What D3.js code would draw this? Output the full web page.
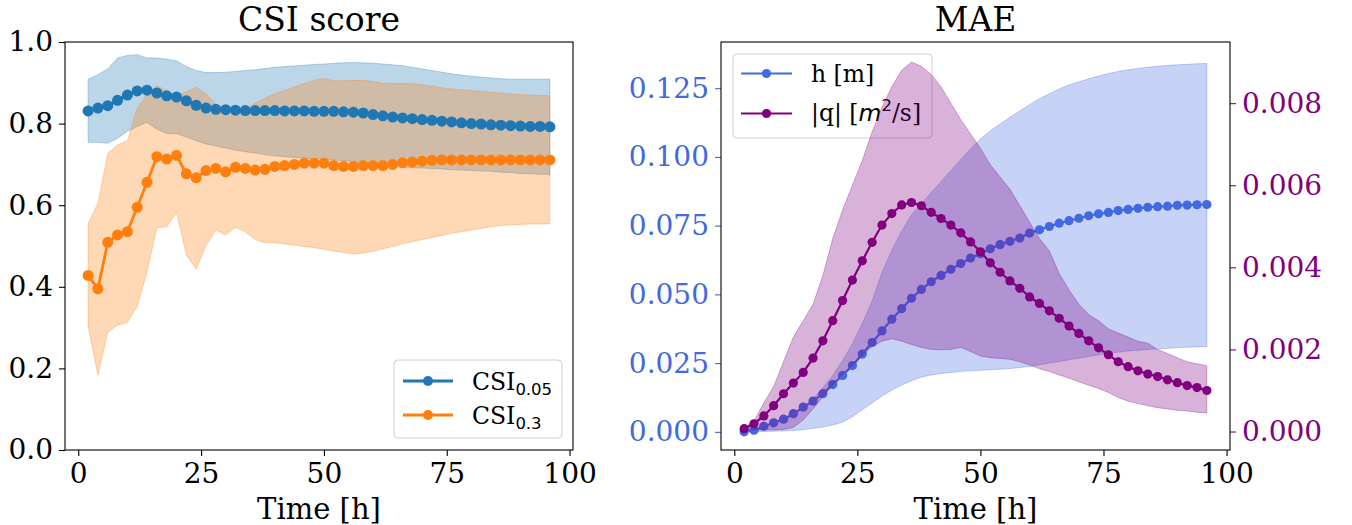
<!DOCTYPE html>
<html><head><meta charset="utf-8">
<script src="https://cdn.jsdelivr.net/npm/d3@7"></script>
<style>
body{margin:0;background:#fff}
svg text{font-family:"DejaVu Serif"}
</style>
</head><body><svg id="c" width="1352" height="525"></svg>
<script>
// ---------- data ----------
const hours = [2,4,6,8,10,12,14,16,18,20,22,24,26,28,30,32,34,36,38,40,42,44,46,48,50,52,54,56,58,60,62,64,66,68,70,72,74,76,78,80,82,84,86,88,90,92,94,96];

const csi005 = [0.831,0.838,0.844,0.857,0.870,0.880,0.882,0.875,0.868,0.865,
  0.856,0.845,0.838,0.835,0.834,0.833,0.832,0.832,0.832,0.832,
  0.831,0.831,0.831,0.830,0.830,0.830,0.829,0.828,0.826,0.822,
  0.819,0.816,0.814,0.812,0.810,0.808,0.806,0.804,0.802,0.800,
  0.799,0.797,0.796,0.795,0.794,0.793,0.793,0.792];
const csi005Hi = [0.909,0.920,0.934,0.961,0.967,0.969,0.961,0.961,0.958,0.954,
  0.940,0.930,0.925,0.925,0.926,0.928,0.930,0.932,0.935,0.938,
  0.940,0.941,0.943,0.945,0.946,0.948,0.949,0.950,0.949,0.948,
  0.946,0.944,0.942,0.938,0.934,0.930,0.926,0.922,0.919,0.916,
  0.914,0.912,0.910,0.909,0.909,0.909,0.909,0.909];
const csi005Lo = [0.754,0.754,0.752,0.764,0.781,0.793,0.803,0.786,0.776,0.775,
  0.767,0.758,0.750,0.745,0.740,0.735,0.731,0.728,0.724,0.721,
  0.719,0.717,0.715,0.714,0.713,0.711,0.709,0.707,0.703,0.699,
  0.697,0.695,0.694,0.692,0.691,0.690,0.689,0.687,0.686,0.685,
  0.684,0.683,0.681,0.680,0.678,0.677,0.676,0.675];

const csi03 = [0.428,0.395,0.509,0.527,0.535,0.595,0.656,0.719,0.713,0.722,
  0.677,0.667,0.685,0.690,0.682,0.693,0.690,0.686,0.688,0.695,
  0.697,0.700,0.703,0.703,0.703,0.697,0.695,0.695,0.697,0.697,
  0.697,0.700,0.704,0.706,0.708,0.710,0.711,0.711,0.711,0.711,
  0.711,0.711,0.711,0.711,0.711,0.711,0.711,0.711];
const csi03Hi = [0.555,0.605,0.727,0.748,0.758,0.838,0.871,0.893,0.880,0.868,
  0.878,0.889,0.873,0.846,0.835,0.832,0.836,0.850,0.862,0.873,
  0.882,0.890,0.898,0.906,0.911,0.905,0.905,0.906,0.906,0.903,
  0.899,0.898,0.898,0.898,0.895,0.892,0.888,0.885,0.883,0.881,
  0.879,0.877,0.875,0.873,0.871,0.870,0.869,0.868];
const csi03Lo = [0.303,0.183,0.288,0.306,0.313,0.352,0.437,0.545,0.547,0.582,
  0.478,0.443,0.501,0.539,0.527,0.546,0.535,0.516,0.508,0.508,
  0.505,0.502,0.499,0.496,0.492,0.488,0.484,0.480,0.483,0.487,
  0.493,0.499,0.505,0.511,0.516,0.521,0.526,0.531,0.535,0.539,
  0.543,0.547,0.550,0.552,0.553,0.554,0.554,0.554];

const maeH = [0.0000,0.0006,0.0020,0.0033,0.0046,0.0066,0.0090,0.0112,0.0139,0.0172,
  0.0205,0.0241,0.0283,0.0325,0.0367,0.0410,0.0448,0.0486,0.0518,0.0546,
  0.0569,0.0591,0.0612,0.0632,0.0648,0.0666,0.0681,0.0693,0.0705,0.0723,
  0.0735,0.0747,0.0759,0.0768,0.0777,0.0786,0.0793,0.0798,0.0805,0.0809,
  0.0813,0.0817,0.0819,0.0821,0.0824,0.0825,0.0826,0.0827];
const maeHHi = [0.0000,0.0004,0.0012,0.0024,0.0040,0.0060,0.0088,0.0120,0.0160,0.0205,
  0.0260,0.0320,0.0395,0.0475,0.0580,0.0660,0.0730,0.0790,0.0830,0.0870,
  0.0910,0.0950,0.0990,0.1030,0.1065,0.1095,0.1120,0.1144,0.1168,0.1190,
  0.1212,0.1230,0.1247,0.1262,0.1273,0.1284,0.1294,0.1303,0.1311,0.1317,
  0.1322,0.1326,0.1330,0.1333,0.1335,0.1337,0.1339,0.1340];
const maeHLo = [0.0000,0.0000,0.0001,0.0002,0.0003,0.0005,0.0008,0.0013,0.0018,0.0025,
  0.0035,0.0055,0.0080,0.0105,0.0130,0.0152,0.0170,0.0186,0.0199,0.0207,
  0.0212,0.0216,0.0220,0.0222,0.0224,0.0226,0.0228,0.0230,0.0234,0.0238,
  0.0244,0.0250,0.0256,0.0262,0.0268,0.0274,0.0280,0.0286,0.0290,0.0294,
  0.0297,0.0300,0.0302,0.0304,0.0306,0.0308,0.0309,0.0310];

const maeQ = [0.00007,0.00019,0.00038,0.00063,0.00092,0.00118,0.00144,0.00179,0.00221,0.00270,
  0.00319,0.00369,0.00416,0.00461,0.00503,0.00531,0.00552,0.00558,0.00550,0.00534,
  0.00519,0.00503,0.00484,0.00462,0.00438,0.00411,0.00388,0.00367,0.00349,0.00328,
  0.00312,0.00294,0.00276,0.00257,0.00239,0.00221,0.00204,0.00187,0.00170,0.00158,
  0.00148,0.00140,0.00134,0.00126,0.00119,0.00112,0.00107,0.00100];
const maeQHi = [0.00010,0.00025,0.00070,0.00110,0.00170,0.00230,0.00270,0.00310,0.00380,0.00470,
  0.00540,0.00600,0.00660,0.00730,0.00790,0.00840,0.00880,0.00900,0.00890,0.00870,
  0.00840,0.00800,0.00760,0.00725,0.00690,0.00650,0.00620,0.00590,0.00550,0.00510,
  0.00470,0.00440,0.00385,0.00345,0.00310,0.00285,0.00270,0.00250,0.00240,0.00230,
  0.00220,0.00215,0.00200,0.00190,0.00180,0.00170,0.00165,0.00160];
const maeQLo = [0.00004,0.00004,0.00004,0.00004,0.00005,0.00010,0.00028,0.00055,0.00085,0.00113,
  0.00140,0.00160,0.00185,0.00207,0.00220,0.00226,0.00220,0.00212,0.00205,0.00200,
  0.00199,0.00200,0.00205,0.00195,0.00184,0.00180,0.00178,0.00176,0.00170,0.00162,
  0.00153,0.00146,0.00138,0.00130,0.00121,0.00113,0.00105,0.00095,0.00083,0.00074,
  0.00068,0.00063,0.00058,0.00055,0.00052,0.00050,0.00047,0.00045];

const xTicks = [0,25,50,75,100];
const csiTicks = [0.0,0.2,0.4,0.6,0.8,1.0];
const hTicks = [0.000,0.025,0.050,0.075,0.100,0.125];
const qTicks = [0.000,0.002,0.004,0.006,0.008];

// ---------- drawing ----------
const svg = d3.select('#c');
const C = {blue:'#1f77b4', orange:'#ff7f0e', royal:'#4169e1', purple:'#800080'};
const TICK_FS = 28, LABEL_FS = 29, TITLE_FS = 33, LEG_FS = 23.5, SUB_FS = 16.5;

const xL = d3.scaleLinear([-2.7,100.7],[65,573]);
const yL = d3.scaleLinear([0,1],[450,42]);
const xR = d3.scaleLinear([-2.7,100.7],[721,1230]);
const yH = d3.scaleLinear([-0.0066,0.1418],[450,42]);
const yQ = d3.scaleLinear([-0.00045,0.00949],[450,42]);

function band(g, x, y, lo, hi, color){
  const area = d3.area().x((d,i)=>x(hours[i])).y0((d,i)=>y(lo[i])).y1((d,i)=>y(hi[i]));
  g.append('path').attr('d', area(hours)).attr('fill', color).attr('fill-opacity',0.3)
    .attr('stroke', color).attr('stroke-opacity',0.3).attr('stroke-width',1);
}
function series(g, x, y, vals, color, lw, r){
  const line = d3.line().x((d,i)=>x(hours[i])).y((d,i)=>y(vals[i]));
  g.append('path').attr('d', line(vals)).attr('fill','none').attr('stroke',color).attr('stroke-width',lw);
  g.append('g').selectAll('circle').data(vals).join('circle')
    .attr('cx',(d,i)=>x(hours[i])).attr('cy',d=>y(d)).attr('r',r).attr('fill',color);
}
function styleAxis(sel, color){
  sel.select('.domain').remove();
  sel.selectAll('.tick line').attr('stroke', color).attr('stroke-width',1.1);
  sel.selectAll('.tick text').style('fill', color).style('font-family','DejaVu Serif').style('font-size',TICK_FS+'px');
}

// ---- left panel ----
const gL = svg.append('g');
band(gL, xL, yL, csi005Lo, csi005Hi, C.blue);
band(gL, xL, yL, csi03Lo, csi03Hi, C.orange);
series(gL, xL, yL, csi005, C.blue, 2.8, 5.5);
series(gL, xL, yL, csi03, C.orange, 2.8, 5.5);

const axLx = svg.append('g').attr('transform','translate(0,450)')
  .call(d3.axisBottom(xL).tickValues(xTicks).tickFormat(d3.format('d')).tickSize(6).tickPadding(7));
styleAxis(axLx, '#000');
const axLy = svg.append('g').attr('transform','translate(65,0)')
  .call(d3.axisLeft(yL).tickValues(csiTicks).tickFormat(d3.format('.1f')).tickSize(6).tickPadding(6));
styleAxis(axLy, '#000');
svg.append('rect').attr('x',65).attr('y',42).attr('width',508).attr('height',408)
  .attr('fill','none').attr('stroke','#000').attr('stroke-width',1.1);

svg.append('text').attr('x',319).attr('y',31).attr('text-anchor','middle').style('font-size',TITLE_FS+'px').text('CSI score');
svg.append('text').attr('x',319).attr('y',519).attr('text-anchor','middle').style('font-size',LABEL_FS+'px').text('Time [h]');

// legend left
const lgL = svg.append('g');
lgL.append('rect').attr('x',394).attr('y',360).attr('width',168).attr('height',78).attr('rx',4)
  .attr('fill','#fff').attr('fill-opacity',0.8).attr('stroke','#d0d0d0').attr('stroke-width',1);
[[C.blue,'0.05',381],[C.orange,'0.3',415]].forEach(([c,sub,yy])=>{
  lgL.append('line').attr('x1',403).attr('x2',453).attr('y1',yy).attr('y2',yy).attr('stroke',c).attr('stroke-width',2.8);
  lgL.append('circle').attr('cx',428).attr('cy',yy).attr('r',5).attr('fill',c);
  const t = lgL.append('text').attr('x',472).attr('y',yy+8.5).style('font-size',LEG_FS+'px');
  t.append('tspan').text('CSI');
  t.append('tspan').attr('dy',5).style('font-family','DejaVu Sans').style('font-size',SUB_FS+'px').text(sub);
});

// ---- right panel ----
const gR = svg.append('g');
band(gR, xR, yH, maeHLo, maeHHi, C.royal);
series(gR, xR, yH, maeH, C.royal, 2.2, 4.6);

// legend right (below the twin axis layer)
const lgR = svg.append('g');
lgR.append('rect').attr('x',733).attr('y',54).attr('width',199).attr('height',84).attr('rx',4)
  .attr('fill','#fff').attr('fill-opacity',0.8).attr('stroke','#d0d0d0').attr('stroke-width',1);
lgR.append('line').attr('x1',741).attr('x2',792).attr('y1',73.5).attr('y2',73.5).attr('stroke',C.royal).attr('stroke-width',2.2);
lgR.append('circle').attr('cx',766.5).attr('cy',73.5).attr('r',4.6).attr('fill',C.royal);
lgR.append('text').attr('x',811).attr('y',82).style('font-size',LEG_FS+'px').text('h [m]');
lgR.append('line').attr('x1',741).attr('x2',792).attr('y1',113.5).attr('y2',113.5).attr('stroke',C.purple).attr('stroke-width',2.2);
lgR.append('circle').attr('cx',766.5).attr('cy',113.5).attr('r',4.6).attr('fill',C.purple);
const tq = lgR.append('text').attr('x',811).attr('y',121).style('font-size',LEG_FS+'px');
tq.append('tspan').text('|q| [');
tq.append('tspan').style('font-family','DejaVu Sans').style('font-style','italic').text('m');
tq.append('tspan').attr('dy',-10).style('font-family','DejaVu Sans').style('font-size',SUB_FS+'px').text('2');
tq.append('tspan').attr('dy',10).text('/s]');

const gR2 = svg.append('g');
band(gR2, xR, yQ, maeQLo, maeQHi, C.purple);
series(gR2, xR, yQ, maeQ, C.purple, 2.2, 4.6);

const axRx = svg.append('g').attr('transform','translate(0,450)')
  .call(d3.axisBottom(xR).tickValues(xTicks).tickFormat(d3.format('d')).tickSize(6).tickPadding(7));
styleAxis(axRx, '#000');
const axRh = svg.append('g').attr('transform','translate(721,0)')
  .call(d3.axisLeft(yH).tickValues(hTicks).tickFormat(d3.format('.3f')).tickSize(6).tickPadding(6));
styleAxis(axRh, C.royal);
const axRq = svg.append('g').attr('transform','translate(1230,0)')
  .call(d3.axisRight(yQ).tickValues(qTicks).tickFormat(d3.format('.3f')).tickSize(6).tickPadding(6));
styleAxis(axRq, C.purple);
svg.append('rect').attr('x',721).attr('y',42).attr('width',509).attr('height',408)
  .attr('fill','none').attr('stroke','#000').attr('stroke-width',1.1);

svg.append('text').attr('x',975.5).attr('y',31).attr('text-anchor','middle').style('font-size',TITLE_FS+'px').text('MAE');
svg.append('text').attr('x',975.5).attr('y',519).attr('text-anchor','middle').style('font-size',LABEL_FS+'px').text('Time [h]');
</script>
</body></html>
